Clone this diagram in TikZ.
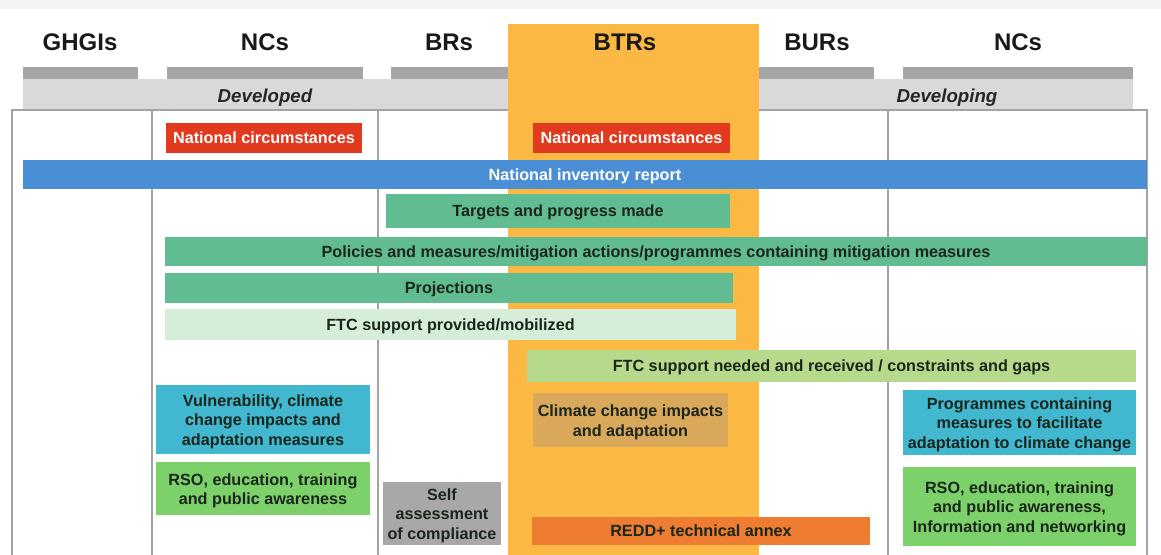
\documentclass[tikz,border=0pt]{standalone}
\usepackage{fontspec}
\setmainfont{Liberation Sans}
\definecolor{topstrip}{HTML}{F3F3F3}
\definecolor{bargrey}{HTML}{A6A6A6}
\definecolor{bandgrey}{HTML}{D9D9D9}
\definecolor{linegrey}{HTML}{A3A3A3}
\definecolor{btrorange}{HTML}{FBB843}
\definecolor{ncred}{HTML}{E13A1F}
\definecolor{nirblue}{HTML}{4A8ED6}
\definecolor{midgreen}{HTML}{62BC91}
\definecolor{palegreen}{HTML}{D6EDDA}
\definecolor{olivegreen}{HTML}{B7D98B}
\definecolor{cyanbox}{HTML}{41B8CF}
\definecolor{rsogreen}{HTML}{7DD16B}
\definecolor{selfgrey}{HTML}{A8A8A8}
\definecolor{tanbox}{HTML}{D9A85A}
\definecolor{reddorange}{HTML}{EE7D31}
\definecolor{darktext}{HTML}{1A261C}
% #1 name, #2 x1, #3 y1, #4 x2, #5 y2, #6 fill, #7 text style, #8 text
\newcommand\mybox[8]{%
  \node[boxfill, fill=#6, minimum width={(#4-#2)*1pt}, minimum height={(#5-#3)*1pt}]
    (#1) at ({(#2+#4)/2},{(#3+#5)/2}) {};
  \node[boxtext, #7] (#1-t) at (#1.center) {#8};}
\begin{document}
\begin{tikzpicture}[x=1pt,y=-1pt,
  boxfill/.style={inner sep=0pt, draw=none},
  boxtext/.style={inner sep=0pt, align=center, text=darktext,
    font=\fontsize{16.2}{19.5}\selectfont\bfseries},
  oneline/.style={text height=11.6pt, text depth=0pt},
  multiline/.style={yshift=-2.2pt},
  whitetext/.style={text=white},
  header/.style={font=\fontsize{24}{28}\selectfont\bfseries, text=black!90},
  bandtext/.style={font=\fontsize{18.7}{22}\selectfont\bfseries\itshape, text=black!85,
    text height=13.4pt, text depth=0pt},
  greybar/.style={fill=bargrey},
  band/.style={fill=bandgrey},
  frame/.style={draw=linegrey, line width=1.5pt}]
\useasboundingbox (0,0) rectangle (1161,554);
\fill[white] (0,0) rectangle (1161,554);
\fill[topstrip] (0,0) rectangle (1161,9);
% grey bars
\fill[greybar] (23,67) rectangle (138,79);
\fill[greybar] (167,67) rectangle (363,79);
\fill[greybar] (391,67) rectangle (520,79);
\fill[greybar] (745,67) rectangle (874,79);
\fill[greybar] (903,67) rectangle (1133,79);
% bands
\fill[band] (23,79) rectangle (520,110);
\fill[band] (745,79) rectangle (1133,110);
% main frame
\draw[frame] (12,560) -- (12,110) -- (1147,110) -- (1147,560);
\draw[frame] (152,110) -- (152,560);
\draw[frame] (378,110) -- (378,560);
\draw[frame] (888,110) -- (888,560);
% BTR column
\fill[btrorange] (508,24) rectangle (759,560);
% headers
\node[header] (hghgi) at (80,42) {GHGIs};
\node[header] (hnc1) at (265,42) {NCs};
\node[header] (hbr) at (449,42) {BRs};
\node[header] (hbtr) at (625,42) {BTRs};
\node[header] (hbur) at (817,42) {BURs};
\node[header] (hnc2) at (1018,42) {NCs};
\node[bandtext] (dev1) at (265,95.5) {Developed};
\node[bandtext] (dev2) at (947,95.5) {Developing};
% boxes
\mybox{nc1}{166}{123}{362}{153}{ncred}{oneline,whitetext}{National circumstances}
\mybox{nc2}{533}{123}{730}{153}{ncred}{oneline,whitetext}{National circumstances}
\mybox{nir}{23}{160}{1147}{189}{nirblue}{oneline,whitetext}{National inventory report}
\mybox{tpm}{386}{194}{730}{228}{midgreen}{oneline}{Targets and progress made}
\mybox{pam}{165}{237}{1147}{266}{midgreen}{oneline}{Policies and measures/mitigation actions/programmes containing mitigation measures}
\mybox{proj}{165}{273}{733}{303}{midgreen}{oneline}{Projections}
\mybox{ftcp}{165}{309}{736}{340}{palegreen}{oneline}{FTC support provided/mobilized}
\mybox{ftcn}{527}{350}{1136}{382}{olivegreen}{oneline}{FTC support needed and received / constraints and gaps}
\mybox{vuln}{156}{385}{370}{454}{cyanbox}{multiline}{Vulnerability, climate\\change impacts and\\adaptation measures}
\mybox{rso1}{156}{462}{370}{515}{rsogreen}{multiline}{RSO, education, training\\and public awareness}
\mybox{self}{383}{482}{501}{545}{selfgrey}{multiline}{Self\\assessment\\of compliance}
\mybox{cci}{533}{393}{728}{447}{tanbox}{multiline}{Climate change impacts\\and adaptation}
\mybox{redd}{532}{517}{870}{545}{reddorange}{oneline}{REDD+ technical annex}
\mybox{prog}{903}{390}{1136}{455}{cyanbox}{multiline}{Programmes containing\\measures to facilitate\\adaptation to climate change}
\mybox{rso2}{903}{467}{1136}{546}{rsogreen}{multiline}{RSO, education, training\\and public awareness,\\Information and networking}
\end{tikzpicture}
\end{document}
